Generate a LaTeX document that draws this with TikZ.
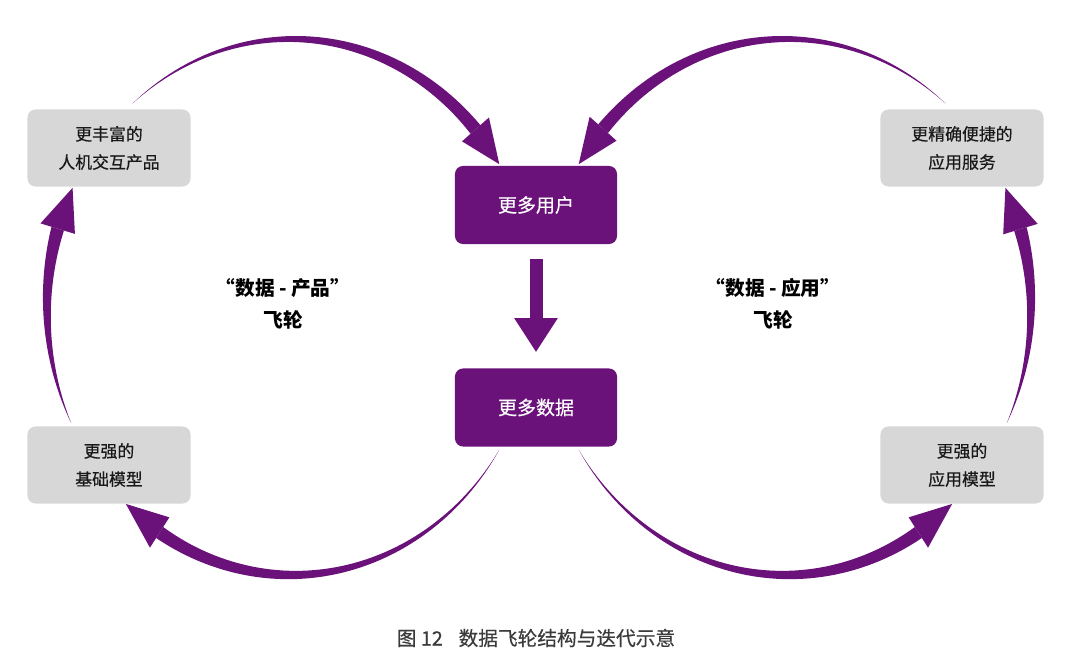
\documentclass[tikz,border=0pt]{standalone}
\usepackage{fontspec}
\setmainfont{Noto Sans CJK SC}
\newfontfamily\medfont[FakeBold=0.5]{Noto Sans CJK SC}
\usepackage{tikz}
\usetikzlibrary{arrows.meta}

\definecolor{flypurple}{RGB}{106,17,122}
\definecolor{boxgray}{RGB}{215,215,215}
\definecolor{textdark}{RGB}{25,25,25}

% tapered arc on an ellipse: centre x, centre y, tail angle, head base angle, tip angle
\newcommand{\flyarrow}[5]{%
  \fill[flypurple] plot[domain=#3:#4, samples=60]
      ({#1+(245+6.5*(\x-(#3))/((#4)-(#3)))*cos(\x)}, {#2+(268+6.5*(\x-(#3))/((#4)-(#3)))*sin(\x)})
    -- plot[domain=#4:#3, samples=60]
      ({#1+(245-6.5*(\x-(#3))/((#4)-(#3)))*cos(\x)}, {#2+(268-6.5*(\x-(#3))/((#4)-(#3)))*sin(\x)})
    -- cycle;
  \fill[flypurple] ({#1+263*cos(#4)}, {#2+286*sin(#4)}) -- ({#1+245*cos(#5)}, {#2+268*sin(#5)})
    -- ({#1+227*cos(#4)}, {#2+250*sin(#4)}) -- cycle;
}

\begin{document}
\begin{tikzpicture}[x=0.025cm, y=-0.025cm,
    graybox/.style={fill=boxgray, rounded corners=0.2cm, minimum width=4.075cm, minimum height=1.925cm,
      align=center, text=textdark, font=\medfont\fontsize{12}{20}\selectfont, inner sep=0pt},
    purplebox/.style={fill=flypurple, rounded corners=0.2cm, minimum width=4.05cm, minimum height=1.95cm,
      text=white, font=\medfont\fontsize{13.5}{16}\selectfont, inner sep=0pt},
    wheellabel/.style={align=center, font=\fontsize{14}{23}\selectfont\bfseries, text=black},
    downarrow/.style={flypurple, line width=0.325cm, -{Triangle[width=1.025cm, length=0.85cm]}}]
        \useasboundingbox (0,0) rectangle (1080,663);

        % Corner boxes
        \node[graybox] (richer) at (109,148) {更丰富的\\人机交互产品};
        \node[graybox] (service) at (962,148) {更精确便捷的\\应用服务};
        \node[graybox] (basemodel) at (109,465) {更强的\\基础模型};
        \node[graybox] (appmodel) at (962,465) {更强的\\应用模型};

        % Centre boxes
        \node[purplebox] (users) at (536,205) {更多用户};
        \node[purplebox] (moredata) at (536,407.5) {更多数据};
        \draw[downarrow] ([yshift=-0.375cm]users.south) -- ([yshift=0.4cm]moredata.north);

        % Left wheel
        \flyarrow{292}{307}{-130.6}{-41.5}{-32.2}
        \flyarrow{292}{307}{154.3}{197}{206.4}
        \flyarrow{292}{307}{32.2}{122.7}{132.7}

        % Right wheel
        \flyarrow{786}{307}{-49.4}{-138.3}{-147.8}
        \flyarrow{786}{307}{25.7}{-16.9}{-26.4}
        \flyarrow{786}{307}{147.8}{57.3}{47.3}

        % Wheel names
        \node[wheellabel] (leftname) at (283,304) {“数据 - 产品”\\飞轮};
        \node[wheellabel] (rightname) at (773,304) {“数据 - 应用”\\飞轮};

        % Caption
        \node[text=textdark!85, font=\medfont\fontsize{14}{16}\selectfont] (caption) at (536,638) {图 12\hspace{0.8em}数据飞轮结构与迭代示意};
    \end{tikzpicture}
\end{document}
